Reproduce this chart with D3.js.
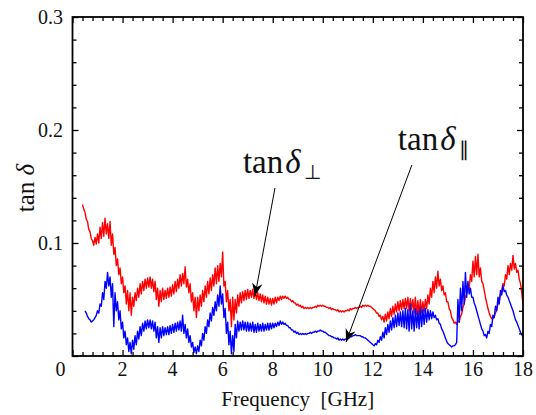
<!DOCTYPE html>
<html>
<head>
<meta charset="utf-8">
<script src="https://cdn.jsdelivr.net/npm/d3@7"></script>
</head>
<body style="margin:0">
<svg id="chart" width="536" height="415"></svg>
<script>
// Loss tangent spectra: perpendicular (red) and parallel (blue), sampled every 0.05 GHz
const perpStart = 0.4;
const perpValues = [
  0.134, 0.130, 0.127, 0.121, 0.119, 0.112, 0.110, 0.104, 0.102, 0.098,
  0.105, 0.099, 0.108, 0.100, 0.114, 0.104, 0.118, 0.106, 0.122, 0.108,
  0.117, 0.104, 0.119, 0.098, 0.108, 0.090, 0.096, 0.080, 0.086, 0.072,
  0.078, 0.064, 0.070, 0.056, 0.062, 0.046, 0.058, 0.040, 0.056, 0.036,
  0.052, 0.044, 0.056, 0.049, 0.060, 0.052, 0.064, 0.055, 0.066, 0.058,
  0.068, 0.060, 0.069, 0.061, 0.070, 0.060, 0.068, 0.057, 0.066, 0.050,
  0.060, 0.044, 0.058, 0.048, 0.060, 0.050, 0.058, 0.051, 0.060, 0.052,
  0.061, 0.053, 0.063, 0.055, 0.066, 0.057, 0.068, 0.060, 0.072, 0.062,
  0.073, 0.064, 0.079, 0.061, 0.068, 0.056, 0.064, 0.048, 0.056, 0.040,
  0.052, 0.034, 0.052, 0.040, 0.054, 0.044, 0.058, 0.048, 0.062, 0.052,
  0.066, 0.055, 0.069, 0.058, 0.072, 0.062, 0.078, 0.064, 0.080, 0.066,
  0.082, 0.070, 0.092, 0.062, 0.066, 0.048, 0.058, 0.040, 0.050, 0.026,
  0.052, 0.032, 0.050, 0.038, 0.054, 0.044, 0.056, 0.047, 0.057, 0.049,
  0.058, 0.050, 0.059, 0.051, 0.058, 0.052, 0.059, 0.051, 0.057, 0.050,
  0.056, 0.049, 0.055, 0.048, 0.054, 0.047, 0.053, 0.046, 0.052, 0.046,
  0.051, 0.045, 0.051, 0.046, 0.052, 0.047, 0.052, 0.049, 0.053, 0.050,
  0.053, 0.051, 0.053, 0.051, 0.052, 0.050, 0.050, 0.048, 0.049, 0.047,
  0.047, 0.045, 0.046, 0.044, 0.045, 0.043, 0.044, 0.042, 0.043, 0.042,
  0.043, 0.042, 0.043, 0.042, 0.043, 0.043, 0.044, 0.043, 0.045, 0.044,
  0.045, 0.044, 0.045, 0.044, 0.044, 0.043, 0.043, 0.042, 0.043, 0.041,
  0.042, 0.041, 0.041, 0.040, 0.041, 0.039, 0.040, 0.039, 0.040, 0.039,
  0.040, 0.040, 0.041, 0.040, 0.042, 0.041, 0.042, 0.042, 0.043, 0.042,
  0.043, 0.043, 0.044, 0.043, 0.045, 0.044, 0.045, 0.044, 0.045, 0.044,
  0.044, 0.043, 0.042, 0.041, 0.040, 0.038, 0.038, 0.035, 0.036, 0.032,
  0.035, 0.030, 0.037, 0.031, 0.039, 0.033, 0.042, 0.035, 0.044, 0.037,
  0.046, 0.039, 0.048, 0.040, 0.049, 0.041, 0.050, 0.042, 0.051, 0.042,
  0.052, 0.040, 0.051, 0.041, 0.050, 0.038, 0.052, 0.037, 0.049, 0.036,
  0.050, 0.038, 0.048, 0.039, 0.050, 0.042, 0.054, 0.046, 0.060, 0.052,
  0.066, 0.056, 0.070, 0.060, 0.075, 0.062, 0.068, 0.058, 0.062, 0.054,
  0.056, 0.048, 0.048, 0.042, 0.040, 0.034, 0.032, 0.029, 0.030, 0.028,
  0.031, 0.030, 0.035, 0.037, 0.043, 0.046, 0.052, 0.055, 0.062, 0.060,
  0.072, 0.066, 0.084, 0.070, 0.088, 0.072, 0.090, 0.070, 0.078, 0.066,
  0.064, 0.058, 0.052, 0.047, 0.042, 0.038, 0.035, 0.033, 0.033, 0.035,
  0.038, 0.041, 0.046, 0.049, 0.054, 0.058, 0.064, 0.062, 0.072, 0.068,
  0.080, 0.072, 0.082, 0.076, 0.089, 0.077, 0.082, 0.074, 0.076, 0.068,
  0.064, 0.056, 0.046
];
const paraStart = 0.5;
const paraValues = [
  0.040, 0.038, 0.035, 0.033, 0.032, 0.030, 0.031, 0.032, 0.034, 0.036,
  0.040, 0.038, 0.046, 0.044, 0.056, 0.050, 0.066, 0.060, 0.074, 0.062,
  0.070, 0.052, 0.064, 0.026, 0.056, 0.040, 0.048, 0.032, 0.040, 0.024,
  0.030, 0.016, 0.022, 0.010, 0.016, 0.004, 0.012, 0.002, 0.014, 0.006,
  0.018, 0.010, 0.022, 0.015, 0.026, 0.018, 0.029, 0.022, 0.031, 0.024,
  0.032, 0.025, 0.032, 0.024, 0.031, 0.022, 0.030, 0.016, 0.026, 0.012,
  0.025, 0.016, 0.026, 0.018, 0.025, 0.019, 0.026, 0.019, 0.027, 0.020,
  0.028, 0.021, 0.029, 0.022, 0.030, 0.023, 0.031, 0.022, 0.036, 0.020,
  0.028, 0.016, 0.024, 0.012, 0.018, 0.008, 0.012, 0.003, 0.008, 0.002,
  0.009, 0.004, 0.014, 0.009, 0.020, 0.014, 0.026, 0.020, 0.032, 0.026,
  0.038, 0.031, 0.043, 0.036, 0.048, 0.040, 0.054, 0.044, 0.062, 0.046,
  0.055, 0.034, 0.042, 0.020, 0.030, 0.010, 0.022, 0.002, 0.018, 0.004,
  0.028, 0.016, 0.031, 0.022, 0.030, 0.023, 0.031, 0.023, 0.030, 0.022,
  0.030, 0.022, 0.029, 0.022, 0.030, 0.021, 0.028, 0.021, 0.029, 0.022,
  0.028, 0.022, 0.029, 0.022, 0.028, 0.023, 0.029, 0.023, 0.029, 0.024,
  0.029, 0.025, 0.029, 0.026, 0.030, 0.027, 0.031, 0.028, 0.030, 0.028,
  0.029, 0.027, 0.027, 0.025, 0.025, 0.023, 0.023, 0.021, 0.022, 0.020,
  0.021, 0.019, 0.020, 0.019, 0.020, 0.019, 0.020, 0.019, 0.020, 0.020,
  0.021, 0.020, 0.021, 0.021, 0.022, 0.021, 0.022, 0.022, 0.023, 0.022,
  0.022, 0.021, 0.021, 0.020, 0.019, 0.018, 0.018, 0.017, 0.017, 0.016,
  0.016, 0.015, 0.016, 0.014, 0.015, 0.014, 0.015, 0.014, 0.015, 0.015,
  0.016, 0.016, 0.017, 0.017, 0.018, 0.018, 0.019, 0.018, 0.018, 0.018,
  0.018, 0.017, 0.017, 0.016, 0.016, 0.015, 0.014, 0.013, 0.012, 0.011,
  0.010, 0.009, 0.011, 0.010, 0.014, 0.012, 0.017, 0.014, 0.021, 0.016,
  0.025, 0.019, 0.028, 0.021, 0.031, 0.023, 0.034, 0.025, 0.036, 0.026,
  0.038, 0.027, 0.039, 0.026, 0.040, 0.025, 0.042, 0.024, 0.041, 0.022,
  0.046, 0.024, 0.040, 0.022, 0.042, 0.025, 0.040, 0.024, 0.043, 0.026,
  0.041, 0.028, 0.042, 0.030, 0.041, 0.032, 0.040, 0.033, 0.039, 0.034,
  0.036, 0.032, 0.033, 0.029, 0.028, 0.024, 0.022, 0.019, 0.016, 0.013,
  0.011, 0.010, 0.009, 0.008, 0.009, 0.009, 0.010, 0.012, 0.050, 0.030,
  0.060, 0.040, 0.066, 0.046, 0.074, 0.052, 0.066, 0.055, 0.060, 0.052,
  0.052, 0.047, 0.044, 0.040, 0.036, 0.032, 0.028, 0.024, 0.022, 0.018,
  0.019, 0.016, 0.022, 0.020, 0.028, 0.026, 0.036, 0.034, 0.044, 0.040,
  0.052, 0.046, 0.058, 0.054, 0.062, 0.057, 0.058, 0.054, 0.052, 0.049,
  0.046, 0.043, 0.040, 0.036, 0.032, 0.030, 0.027, 0.024, 0.021, 0.019,
  0.017
];
const step = 0.05;
const xTicks = [0, 2, 4, 6, 8, 10, 12, 14, 16, 18];
const yTicks = [0.1, 0.2, 0.3];

const FONT = "Liberation Serif";
const svg = d3.select("#chart");
const plotL = 72.5, plotR = 523, plotT = 17, plotB = 356;
const x = d3.scaleLinear().domain([0, 18]).range([plotL, plotR]);
const y = d3.scaleLinear().domain([0, 0.3]).range([plotB, plotT]);

const toPoints = (start, vals) => vals.map((v, i) => [start + i * step, v]);
const perp = toPoints(perpStart, perpValues);
const para = toPoints(paraStart, paraValues);

const defs = svg.append("defs");
defs.append("clipPath").attr("id", "plot")
  .append("rect").attr("x", plotL).attr("y", plotT)
  .attr("width", plotR - plotL).attr("height", plotB - plotT);

const line = d3.line().x(d => x(d[0])).y(d => y(d[1]));
const g = svg.append("g").attr("clip-path", "url(#plot)");
g.append("path").datum(perp).attr("d", line)
  .attr("fill", "none").attr("stroke", "#ff0000").attr("stroke-width", 1.4)
  .attr("stroke-linejoin", "round");
g.append("path").datum(para).attr("d", line)
  .attr("fill", "none").attr("stroke", "#0000ff").attr("stroke-width", 1.4)
  .attr("stroke-linejoin", "round");

// Ticks pointing inward on all four sides
const xMinor = d3.range(0, 18.001, 0.4).filter(v => Math.abs(v / 2 - Math.round(v / 2)) > 1e-6);
const yMinor = d3.range(0, 0.3001, 0.02).filter(v => Math.abs(v / 0.1 - Math.round(v / 0.1)) > 1e-6);
const axisG = svg.append("g");

function addTicks(scale, vals, len, orient, tx) {
  const ax = orient(scale).tickValues(vals).tickSize(len).tickFormat("");
  axisG.append("g").attr("transform", tx).call(ax)
    .call(a => a.select(".domain").remove())
    .selectAll("line").attr("stroke", "#000").attr("stroke-width", 1.3);
}
const yMajor = [0, 0.1, 0.2, 0.3];
addTicks(x, xTicks, 6, d3.axisTop, `translate(0,${plotB})`);
addTicks(x, xMinor, 4, d3.axisTop, `translate(0,${plotB})`);
addTicks(x, xTicks, 6, d3.axisBottom, `translate(0,${plotT})`);
addTicks(x, xMinor, 4, d3.axisBottom, `translate(0,${plotT})`);
addTicks(y, yMajor, 6, d3.axisRight, `translate(${plotL},0)`);
addTicks(y, yMinor, 4, d3.axisRight, `translate(${plotL},0)`);
addTicks(y, yMajor, 6, d3.axisLeft, `translate(${plotR},0)`);
addTicks(y, yMinor, 4, d3.axisLeft, `translate(${plotR},0)`);

svg.append("rect").attr("x", plotL).attr("y", plotT)
  .attr("width", plotR - plotL).attr("height", plotB - plotT)
  .attr("fill", "none").attr("stroke", "#000").attr("stroke-width", 1.8);

// Tick labels
svg.append("g").selectAll("text").data(xTicks).join("text")
  .style("font-family", FONT)
  .attr("x", d => d === 0 ? x(d) - 12 : x(d)).attr("y", 376)
  .attr("text-anchor", "middle").attr("font-size", 20).attr("fill", "#111")
  .text(d => d);
svg.append("g").selectAll("text").data(yTicks).join("text")
  .style("font-family", FONT)
  .attr("x", 63).attr("y", d => y(d)).attr("dy", "0.35em")
  .attr("text-anchor", "end").attr("font-size", 20).attr("fill", "#111")
  .text(d => d.toFixed(1));

// Axis titles
svg.append("text").style("font-family", FONT)
  .attr("x", (plotL + plotR) / 2).attr("y", 406)
  .attr("text-anchor", "middle").attr("font-size", 21).attr("fill", "#111")
  .style("white-space", "pre")
  .text("Frequency  [GHz]");
const yt = svg.append("text").style("font-family", FONT)
  .attr("transform", "translate(34,188) rotate(-90)")
  .attr("text-anchor", "middle").attr("font-size", 25).attr("fill", "#111")
  .style("white-space", "pre");
yt.append("tspan").text("tan ");
yt.append("tspan").attr("font-style", "italic").text("δ");

// Annotations with arrows
defs.append("marker").attr("id", "head")
  .attr("viewBox", "0 0 10 10").attr("refX", 10).attr("refY", 5)
  .attr("markerWidth", 13).attr("markerHeight", 13).attr("markerUnits", "userSpaceOnUse")
  .attr("orient", "auto")
  .append("path").attr("d", "M0,1 L10,5 L0,9 L3,5 Z").attr("fill", "#000");

const notes = [
  { label: "tan", sym: "δ", sub: "⊥", tx: 6.81, ty: 0.162, x0: 8.09, y0: 0.1487, x1: 7.29, y1: 0.053 },
  { label: "tan", sym: "δ", sub: "∥", tx: 13.0, ty: 0.182, x0: 13.56, y0: 0.169, x1: 10.93, y1: 0.0124 }
];
notes.forEach(n => {
  svg.append("line")
    .attr("x1", x(n.x0)).attr("y1", y(n.y0)).attr("x2", x(n.x1)).attr("y2", y(n.y1))
    .attr("stroke", "#000").attr("stroke-width", 1).attr("marker-end", "url(#head)");
  const t = svg.append("text").style("font-family", FONT)
    .attr("x", x(n.tx)).attr("y", y(n.ty))
    .attr("font-size", 33).attr("fill", "#111");
  t.append("tspan").text(n.label);
  t.append("tspan").attr("dx", 2).attr("font-style", "italic").text(n.sym);
  t.append("tspan").attr("dx", 3).attr("dy", 6).attr("font-size", 20).text(n.sub);
});
</script>
</body>
</html>
